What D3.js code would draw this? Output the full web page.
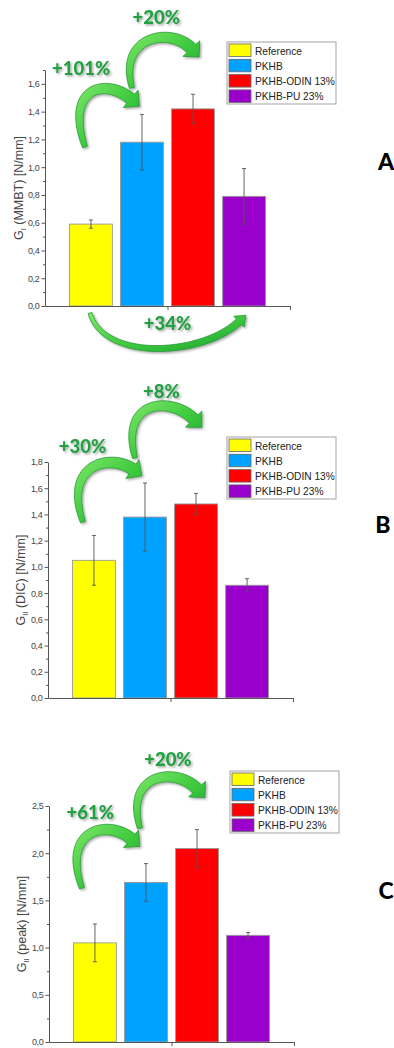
<!DOCTYPE html>
<html><head><meta charset="utf-8">
<script src="https://cdn.jsdelivr.net/npm/d3@7"></script>
<style>
html,body{margin:0;padding:0;background:#fff;}
svg{display:block;}
</style></head>
<body>
<svg id="chart" width="394" height="1048"></svg>
<script>
// ---------------- DATA ----------------
const categories = ["Reference", "PKHB", "PKHB-ODIN 13%", "PKHB-PU 23%"];
const barColors = ["#ffff00", "#00a2ff", "#ff0000", "#9900cc"];

const valuesA = [0.59, 1.18, 1.42, 0.79];
const errorsA = [0.03, 0.20, 0.105, 0.20];
const ticksA = [0, 0.2, 0.4, 0.6, 0.8, 1.0, 1.2, 1.4, 1.6];
const tickLabelsA = ["0,0", "0,2", "0,4", "0,6", "0,8", "1,0", "1,2", "1,4", "1,6"];
const percentLabelsA = ["+101%", "+20%", "+34%"];

const valuesB = [1.05, 1.38, 1.48, 0.86];
const errorsB = [0.19, 0.26, 0.08, 0.05];
const ticksB = [0, 0.2, 0.4, 0.6, 0.8, 1.0, 1.2, 1.4, 1.6, 1.8];
const tickLabelsB = ["0,0", "0,2", "0,4", "0,6", "0,8", "1,0", "1,2", "1,4", "1,6", "1,8"];
const percentLabelsB = ["+30%", "+8%"];

const valuesC = [1.05, 1.69, 2.05, 1.13];
const errorsC = [0.20, 0.20, 0.20, 0.03];
const ticksC = [0, 0.5, 1.0, 1.5, 2.0, 2.5];
const tickLabelsC = ["0,0", "0,5", "1,0", "1,5", "2,0", "2,5"];
const percentLabelsC = ["+61%", "+20%"];

// ---------------- LAYOUT ----------------
// annotation anchors are in data space: [category index (fractional), value]
// arrows are cubic Bézier curves: [start, control1, control2, end]
const panels = [
  { letter: "A", values: valuesA, errors: errorsA, ticks: ticksA, tickLabels: tickLabelsA, minorStep: 0.1,
    domain: [0, 1.7], left: 45, right: 290, bottom: 306, top: 70,
    yLabel: ["G", "I", " (MMBT) [N/mm]"], yLabelX: 23,
    legend: { x: 227, y: 42 }, letterPos: { x: 386, y: 170 },
    pctLabels: percentLabelsA,
    pctPos: [[-0.19, 1.715], [1.28, 2.08], [1.5, -0.12]],
    arrows: [
      { pts: [[-0.117, 1.146], [-0.567, 1.643], [0.530, 1.643], [0.922, 1.434]], tailW: 5, shaftW: 12, headW: 23, headLen: 11 },
      { pts: [[0.804, 1.571], [0.491, 2.003], [1.862, 2.017], [2.077, 1.787]], tailW: 5, shaftW: 12, headW: 23, headLen: 11 },
      { pts: [[-0.019, -0.050], [0.275, -0.425], [2.430, -0.353], [3.018, -0.065]], tailW: 4, shaftW: 7.5, headW: 15, headLen: 9 }
    ] },
  { letter: "B", values: valuesB, errors: errorsB, ticks: ticksB, tickLabels: tickLabelsB, minorStep: 0.1,
    domain: [0, 1.8], left: 48, right: 293, bottom: 698, top: 462,
    yLabel: ["G", "II", " (DIC) [N/mm]"], yLabelX: 25,
    legend: { x: 227, y: 437 }, letterPos: { x: 383, y: 533 },
    pctLabels: percentLabelsB,
    pctPos: [[-0.225, 1.92], [1.32, 2.345]],
    arrows: [
      { pts: [[-0.215, 1.342], [-0.665, 1.854], [0.608, 1.876], [0.902, 1.686]], tailW: 5, shaftW: 12, headW: 23, headLen: 11 },
      { pts: [[0.804, 1.831], [0.471, 2.349], [1.803, 2.288], [2.077, 2.059]], tailW: 5, shaftW: 12, headW: 23, headLen: 11 }
    ] },
  { letter: "C", values: valuesC, errors: errorsC, ticks: ticksC, tickLabels: tickLabelsC, minorStep: 0.25,
    domain: [0, 2.5], left: 49, right: 294, bottom: 1042, top: 806,
    yLabel: ["G", "II", " (peak) [N/mm]"], yLabelX: 26,
    legend: { x: 230, y: 771 }, letterPos: { x: 386, y: 899 },
    pctLabels: percentLabelsC,
    pctPos: [[-0.09, 2.44], [1.43, 3.0]],
    arrows: [
      { pts: [[-0.254, 1.630], [-0.724, 2.349], [0.530, 2.370], [0.843, 2.063]], tailW: 5, shaftW: 12, headW: 23, headLen: 11 },
      { pts: [[0.883, 2.265], [0.530, 2.931], [1.862, 2.921], [2.116, 2.582]], tailW: 5, shaftW: 12, headW: 23, headLen: 11 }
    ] }
];

const svg = d3.select("#chart");
const defs = svg.append("defs");
const shadow = defs.append("filter").attr("id", "shadow").attr("x", "-30%").attr("y", "-30%").attr("width", "160%").attr("height", "160%");
shadow.append("feDropShadow").attr("dx", 1.5).attr("dy", 1.5).attr("stdDeviation", 1.2)
  .attr("flood-color", "#000").attr("flood-opacity", 0.35);
const grad = defs.append("linearGradient").attr("id", "greenGrad").attr("x1", 0).attr("y1", 0).attr("x2", 1).attr("y2", 1);
grad.append("stop").attr("offset", "0%").attr("stop-color", "#7fe86a");
grad.append("stop").attr("offset", "55%").attr("stop-color", "#3cc93c");
grad.append("stop").attr("offset", "100%").attr("stop-color", "#1f9e35");

function arrowPolygon(pts, o) {
  const p = document.createElementNS("http://www.w3.org/2000/svg", "path");
  const path = d3.path();
  path.moveTo(pts[0][0], pts[0][1]);
  path.bezierCurveTo(pts[1][0], pts[1][1], pts[2][0], pts[2][1], pts[3][0], pts[3][1]);
  p.setAttribute("d", path.toString());
  svg.node().appendChild(p);
  const L = p.getTotalLength();
  const shaftL = L - o.headLen;
  const tan = s => {
    const a = p.getPointAtLength(Math.max(0, s - 1));
    const b = p.getPointAtLength(Math.min(L, s + 1));
    const dx = b.x - a.x, dy = b.y - a.y, n = Math.hypot(dx, dy) || 1;
    return [dx / n, dy / n];
  };
  const N = 60, left = [], right = [];
  for (let i = 0; i <= N; i++) {
    const s = shaftL * i / N;
    const q = p.getPointAtLength(s);
    const [tx, ty] = tan(s);
    const nx = -ty, ny = tx;
    const w = o.tailW + (o.shaftW - o.tailW) * Math.pow(i / N, 0.8);
    left.push([q.x + nx * w / 2, q.y + ny * w / 2]);
    right.push([q.x - nx * w / 2, q.y - ny * w / 2]);
  }
  const base = p.getPointAtLength(shaftL);
  const [tx, ty] = tan(shaftL);
  const nx = -ty, ny = tx;
  const bl = [base.x + nx * o.headW / 2, base.y + ny * o.headW / 2];
  const br = [base.x - nx * o.headW / 2, base.y - ny * o.headW / 2];
  const tip = [base.x + tx * o.headLen * 1.05, base.y + ty * o.headLen * 1.05];
  p.remove();
  return [...left, bl, tip, br, ...right.reverse()];
}

panels.forEach(P => {
  const g = svg.append("g");
  const x = d3.scaleBand().domain(categories).range([P.left, P.right]).paddingInner(0.16).paddingOuter(0.48);
  const y = d3.scaleLinear().domain(P.domain).range([P.bottom, P.top]);
  const color = d3.scaleOrdinal().domain(categories).range(barColors);
  const cx = d3.scaleLinear().domain([0, 1]).range([x(categories[0]) + x.bandwidth() / 2, x(categories[1]) + x.bandwidth() / 2]);
  const px = d => [cx(d[0]), y(d[1])];

  // bars
  g.selectAll("rect.bar").data(categories).join("rect").attr("class", "bar")
    .attr("x", d => x(d)).attr("width", x.bandwidth())
    .attr("y", (d, i) => y(P.values[i])).attr("height", (d, i) => y(0) - y(P.values[i]))
    .attr("fill", d => color(d)).attr("stroke", "#9a9a9a").attr("stroke-width", 0.9);

  // error bars
  const eg = g.append("g").attr("stroke", "#555").attr("stroke-width", 0.9).attr("fill", "none");
  categories.forEach((c, i) => {
    const xm = x(c) + x.bandwidth() / 2;
    const hi = y(P.values[i] + P.errors[i]), lo = y(P.values[i] - P.errors[i]);
    eg.append("line").attr("x1", xm).attr("x2", xm).attr("y1", hi).attr("y2", lo);
    eg.append("line").attr("x1", xm - 2).attr("x2", xm + 2).attr("y1", hi).attr("y2", hi);
    eg.append("line").attr("x1", xm - 2).attr("x2", xm + 2).attr("y1", lo).attr("y2", lo);
  });

  // axes
  const minor = d3.range(0, P.domain[1] + 1e-9, P.minorStep).filter(v => !P.ticks.some(t => Math.abs(t - v) < 1e-6));
  const yAxisMinor = d3.axisLeft(y).tickValues(minor).tickSize(2).tickFormat("").tickSizeOuter(0);
  g.append("g").attr("transform", `translate(${P.left},0)`).call(yAxisMinor)
    .call(a => a.select(".domain").remove())
    .call(a => a.selectAll("line").attr("stroke", "#555"));
  const yAxis = d3.axisLeft(y).tickValues(P.ticks).tickSize(3.5).tickPadding(2).tickSizeOuter(0)
    .tickFormat((d, i) => P.tickLabels[i]);
  g.append("g").attr("transform", `translate(${P.left},0)`).call(yAxis)
    .call(a => a.select(".domain").attr("stroke", "#555"))
    .call(a => a.selectAll("line").attr("stroke", "#555"))
    .call(a => a.selectAll("text").attr("fill", "#444").attr("font-family", "Liberation Sans, Arial, sans-serif")
      .attr("font-size", 9).attr("letter-spacing", "-0.3px"));
  // x axis: single centre tick like the original
  const xAxis = d3.axisBottom(d3.scaleLinear().domain([0, 1]).range([P.left, P.right]))
    .tickValues([0.5, 1]).tickSize(4).tickFormat("").tickSizeOuter(0);
  g.append("g").attr("transform", `translate(0,${P.bottom})`).call(xAxis)
    .call(a => a.selectAll("path,line").attr("stroke", "#555"));

  // y label
  const yl = g.append("text")
    .attr("transform", `translate(${P.yLabelX},${(P.top + P.bottom) / 2}) rotate(-90)`)
    .attr("text-anchor", "middle").attr("fill", "#444")
    .attr("font-family", "Liberation Sans, Arial, sans-serif").attr("font-size", 12.5);
  yl.append("tspan").text(P.yLabel[0]);
  yl.append("tspan").attr("font-size", 7.5).attr("dy", 3).text(P.yLabel[1]);
  yl.append("tspan").attr("dy", -3).text(P.yLabel[2]);

  // legend
  const lg = g.append("g").attr("transform", `translate(${P.legend.x},${P.legend.y})`);
  lg.append("rect").attr("width", 109).attr("height", 62).attr("fill", "#fff").attr("stroke", "#999").attr("stroke-width", 0.9);
  categories.forEach((c, i) => {
    const row = lg.append("g").attr("transform", `translate(2,${2 + i * 15.3})`);
    row.append("rect").attr("width", 22).attr("height", 12.5).attr("fill", color(c)).attr("stroke", "#666").attr("stroke-width", 0.8);
    row.append("text").attr("x", 26).attr("y", 10.5).attr("font-family", "Liberation Sans, Arial, sans-serif")
      .attr("font-size", 10.2).attr("fill", "#222").text(c);
  });

  // panel letter
  g.append("text").attr("x", P.letterPos.x).attr("y", P.letterPos.y).attr("text-anchor", "middle")
    .attr("font-family", "Lato, 'Open Sans', sans-serif").attr("font-weight", 900).attr("font-size", 23)
    .attr("fill", "#000").text(P.letter);

  // arrows
  P.arrows.forEach(a => {
    const poly = arrowPolygon(a.pts.map(px), a);
    g.append("path").attr("d", d3.line()(poly) + "Z")
      .attr("fill", "url(#greenGrad)").attr("stroke", "#1c8e2e").attr("stroke-width", 0.7)
      .attr("filter", "url(#shadow)");
  });

  // percent labels
  P.pctLabels.forEach((t, i) => {
    const [xx, yy] = px(P.pctPos[i]);
    g.append("text").attr("x", xx).attr("y", yy).attr("text-anchor", "middle").attr("dominant-baseline", "central")
      .attr("font-family", "Lato, 'Open Sans', sans-serif").attr("font-weight", 900).attr("font-size", 18.5)
      .attr("fill", "#23a043").attr("filter", "url(#shadow)").text(t);
  });
});
</script>
</body></html>
